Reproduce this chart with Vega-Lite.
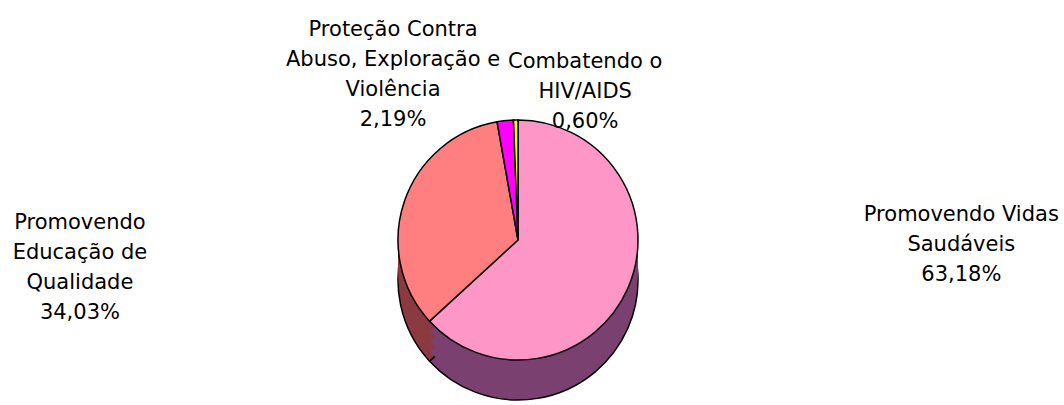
{
  "$schema": "https://vega.github.io/schema/vega-lite/v6.json",
  "width": 1000,
  "height": 330,
  "autosize": {"type": "none"},
  "padding": {"left": 18, "top": 75, "right": 46, "bottom": 0},
  "background": "white",
  "config": {"view": {"stroke": null}, "text": {"font": "DejaVu Sans", "fontSize": 21}},
  "data": {
    "values": [
      {"categoria": "Promovendo Vidas Saudáveis", "valor": 63.18, "ordem": 1, "rotulo": "Promovendo Vidas\nSaudáveis\n63,18%"},
      {"categoria": "Promovendo Educação de Qualidade", "valor": 34.03, "ordem": 2, "rotulo": "Promovendo\nEducação de\nQualidade\n34,03%"},
      {"categoria": "Proteção Contra Abuso, Exploração e Violência", "valor": 2.19, "ordem": 3, "rotulo": "Proteção Contra\nAbuso, Exploração e\nViolência\n2,19%"},
      {"categoria": "Combatendo o HIV/AIDS", "valor": 0.60, "ordem": 4, "rotulo": "Combatendo o\nHIV/AIDS\n0,60%"}
    ]
  },
  "encoding": {
    "theta": {"field": "valor", "type": "quantitative", "stack": true},
    "order": {"field": "ordem", "type": "quantitative"}
  },
  "layer": [
    {
      "mark": {"type": "arc", "radius": 120, "yOffset": 40, "stroke": "black", "strokeWidth": 1.5},
      "encoding": {"color": {"field": "categoria", "type": "nominal", "legend": null,
        "scale": {"domain": ["Promovendo Vidas Saudáveis", "Promovendo Educação de Qualidade", "Proteção Contra Abuso, Exploração e Violência", "Combatendo o HIV/AIDS"], "range": ["#7a4070", "#8a3a40", "#800080", "#808000"]}}}
    },
    {
      "mark": {"type": "arc", "radius": 120, "yOffset": 30},
      "encoding": {"color": {"field": "categoria", "type": "nominal", "legend": null,
        "scale": {"domain": ["Promovendo Vidas Saudáveis", "Promovendo Educação de Qualidade", "Proteção Contra Abuso, Exploração e Violência", "Combatendo o HIV/AIDS"], "range": ["#7a4070", "#8a3a40", "#800080", "#808000"]}}}
    },
    {
      "mark": {"type": "arc", "radius": 120, "yOffset": 20},
      "encoding": {"color": {"field": "categoria", "type": "nominal", "legend": null,
        "scale": {"domain": ["Promovendo Vidas Saudáveis", "Promovendo Educação de Qualidade", "Proteção Contra Abuso, Exploração e Violência", "Combatendo o HIV/AIDS"], "range": ["#7a4070", "#8a3a40", "#800080", "#808000"]}}}
    },
    {
      "mark": {"type": "arc", "radius": 120, "yOffset": 10},
      "encoding": {"color": {"field": "categoria", "type": "nominal", "legend": null,
        "scale": {"domain": ["Promovendo Vidas Saudáveis", "Promovendo Educação de Qualidade", "Proteção Contra Abuso, Exploração e Violência", "Combatendo o HIV/AIDS"], "range": ["#7a4070", "#8a3a40", "#800080", "#808000"]}}}
    },
    {
      "mark": {"type": "arc", "radius": 120, "stroke": "black", "strokeWidth": 1.5},
      "encoding": {"color": {"field": "categoria", "type": "nominal", "legend": null,
        "scale": {"domain": ["Promovendo Vidas Saudáveis", "Promovendo Educação de Qualidade", "Proteção Contra Abuso, Exploração e Violência", "Combatendo o HIV/AIDS"], "range": ["#ff96c8", "#ff7f80", "#ff00ff", "#ffff00"]}}}
    },
    {
      "mark": {"type": "text", "radius": 150, "lineBreak": "\n", "lineHeight": 30, "align": "center", "baseline": "middle", "dx": 306, "dy": -85, "color": "black"},
      "encoding": {"text": {"condition": {"test": "datum.ordem == 1", "field": "rotulo"}, "value": ""}}
    },
    {
      "mark": {"type": "text", "radius": 150, "lineBreak": "\n", "lineHeight": 30, "align": "center", "baseline": "middle", "dx": -296, "dy": 31, "color": "black"},
      "encoding": {"text": {"condition": {"test": "datum.ordem == 2", "field": "rotulo"}, "value": ""}}
    },
    {
      "mark": {"type": "text", "radius": 150, "lineBreak": "\n", "lineHeight": 30, "align": "center", "baseline": "middle", "dx": -109, "dy": -61, "color": "black"},
      "encoding": {"text": {"condition": {"test": "datum.ordem == 3", "field": "rotulo"}, "value": ""}}
    },
    {
      "mark": {"type": "text", "radius": 150, "lineBreak": "\n", "lineHeight": 30, "align": "center", "baseline": "middle", "dx": 70, "dy": -28, "color": "black"},
      "encoding": {"text": {"condition": {"test": "datum.ordem == 4", "field": "rotulo"}, "value": ""}}
    }
  ],
  "resolve": {"scale": {"color": "independent"}}
}
